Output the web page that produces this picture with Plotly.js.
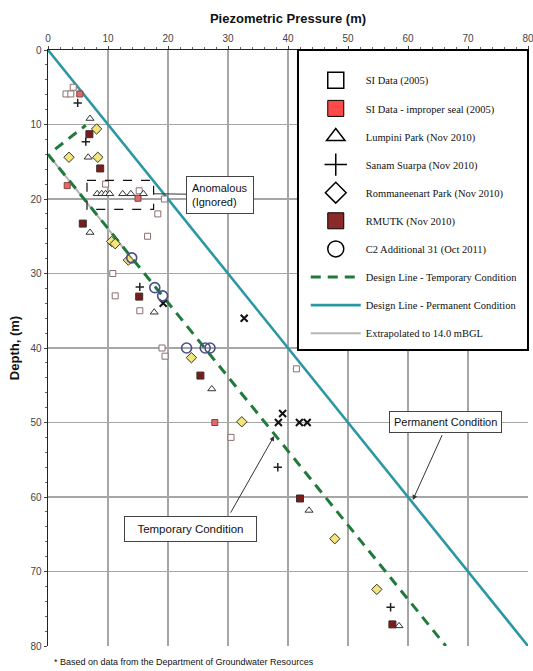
<!DOCTYPE html>
<html>
<head>
<meta charset="utf-8">
<script src="https://cdn.plot.ly/plotly-3.0.1.min.js"></script>
<style>html,body{margin:0;padding:0;background:#fff;}#chart{width:533px;height:671px;}</style>
</head>
<body>
<div id="chart"></div>
<script>
// ---- data (x = piezometric pressure m, y = depth m) ----
const siX = [4.2, 3.0, 3.8, 9.6, 15.2, 19.4, 18.3, 16.6, 10.8, 11.2, 15.3, 19.0, 19.5, 41.4, 30.5];
const siY = [5.0, 5.9, 5.9, 18.0, 18.9, 20.0, 22.0, 25.0, 30.0, 33.0, 35.0, 40.0, 41.1, 42.8, 52.0];
const sealX = [5.3, 3.2, 15.0, 27.8];
const sealY = [5.9, 18.2, 19.9, 50.0];
const lumpX = [7.0, 6.7, 8.2, 8.95, 9.6, 10.3, 12.45, 13.8, 15.9, 7.0, 17.7, 27.3, 43.5, 58.5];
const lumpY = [9.2, 14.4, 19.3, 19.3, 19.3, 19.3, 19.3, 19.3, 19.3, 24.5, 35.2, 45.5, 61.8, 77.3];
const sanamX = [4.95, 6.3, 15.3, 38.3, 57.1];
const sanamY = [7.1, 12.3, 31.8, 56.0, 74.8];
const crossX = [19.2, 32.7, 39.1, 38.4, 41.9, 43.2];
const crossY = [34.0, 36.0, 48.8, 50.0, 50.0, 50.0];
const rommX = [8.1, 3.5, 8.3, 10.6, 11.2, 13.4, 23.9, 32.3, 47.8, 54.8];
const rommY = [10.6, 14.4, 14.4, 25.7, 26.0, 28.2, 41.3, 49.9, 65.6, 72.4];
const rmutkX = [6.9, 8.7, 5.8, 15.2, 25.4, 42.0, 57.4];
const rmutkY = [11.3, 15.9, 23.3, 33.1, 43.7, 60.2, 77.1];
const c2X = [13.95, 17.8, 19.1, 23.1, 26.2, 27.0];
const c2Y = [27.9, 31.9, 33.0, 40.0, 40.0, 40.0];
const tempX = [1.2, 6.3, null, 0, 66.3];
const tempY = [13.3, 10.1, null, 14.0, 80];
const permX = [0, 80];
const permY = [0, 80];
const extraX = [0, 14.0];
const extraY = [14.0, 28.0];
const xTicks = [0, 10, 20, 30, 40, 50, 60, 70, 80];
const yTicks = [0, 10, 20, 30, 40, 50, 60, 70, 80];
const legendNames = ['SI Data (2005)', 'SI Data - improper seal (2005)', 'Lumpini Park (Nov 2010)',
  'Sanam Suarpa (Nov 2010)', 'Rommaneenart Park (Nov 2010)', 'RMUTK (Nov 2010)', 'C2 Additional 31 (Oct 2011)',
  'Design Line - Temporary Condition', 'Design Line - Permanent Condition', 'Extrapolated to 14.0 mBGL'];

const traces = [];
// lines first (drawn underneath)
traces.push({x: extraX, y: extraY, mode: 'lines', name: legendNames[9], legendrank: 10, legendgroup: 'g10',
  line: {color: '#b5b5b5', width: 2}});
traces.push({x: permX, y: permY, mode: 'lines', name: legendNames[8], legendrank: 9, legendgroup: 'g9',
  line: {color: '#2b97a3', width: 2.6}});
traces.push({x: tempX, y: tempY, mode: 'lines', name: legendNames[7], legendrank: 8, legendgroup: 'g8',
  line: {color: '#1f7a3c', width: 3, dash: '10px,7px'}});
// data markers
const mk = (x, y, marker) => ({x, y, mode: 'markers', showlegend: false, marker, hoverinfo: 'x+y'});
traces.push(mk(siX, siY, {symbol: 'square', size: 6, color: '#ffffff', line: {color: '#8a7070', width: 1}}));
traces.push(mk(sealX, sealY, {symbol: 'square', size: 6, color: '#e06a6a', line: {color: '#8a4040', width: 1}}));
traces.push(mk(lumpX, lumpY, {symbol: 'triangle-up', size: 7, color: '#ffffff', line: {color: '#333', width: 1}}));
traces.push(mk(sanamX, sanamY, {symbol: 'cross-thin', size: 6, line: {color: '#222', width: 1.5}}));
traces.push(mk(crossX, crossY, {symbol: 'x-thin', size: 7, line: {color: '#111', width: 2}}));
traces.push(mk(rommX, rommY, {symbol: 'diamond', size: 8, color: '#f3e57a', line: {color: '#333', width: 1}}));
traces.push(mk(rmutkX, rmutkY, {symbol: 'square', size: 7, color: '#7e1a1a', line: {color: '#333', width: 1}}));
traces.push(mk(c2X, c2Y, {symbol: 'circle', size: 10, color: 'rgba(255,255,255,0)', line: {color: '#4a4f86', width: 1.6}}));
// legend-only entries
const lg = (i, marker) => ({x: [null], y: [null], mode: 'markers', name: legendNames[i], legendrank: i + 1,
  legendgroup: 'g' + (i + 1), marker});
traces.push(lg(0, {symbol: 'square', size: 16, color: '#fff', line: {color: '#000', width: 1.5}}));
traces.push(lg(1, {symbol: 'square', size: 16, color: '#ff4a4a', line: {color: '#000', width: 1}}));
traces.push(lg(2, {symbol: 'triangle-up', size: 16, color: '#fff', line: {color: '#000', width: 1.5}}));
traces.push(lg(3, {symbol: 'cross-thin', size: 16, line: {color: '#000', width: 1.5}}));
traces.push(lg(4, {symbol: 'diamond', size: 16, color: '#fff', line: {color: '#000', width: 1.5}}));
traces.push(lg(5, {symbol: 'square', size: 16, color: '#8b2a2a', line: {color: '#000', width: 1}}));
traces.push(lg(6, {symbol: 'circle', size: 16, color: '#fff', line: {color: '#000', width: 1.5}}));

const axisCommon = {
  range: [0, 80], tickvals: xTicks, showgrid: true, gridcolor: '#a6a6a6', gridwidth: 1.2,
  zeroline: false, showline: true, linecolor: '#222', linewidth: 1.5, ticks: 'outside', ticklen: 3,
  tickcolor: '#444', tickfont: {family: 'Arial, Liberation Sans', size: 10, color: '#444'},
  ticklabeloverflow: 'allow',
  minor: {dtick: 2, ticks: 'outside', ticklen: 2, tickcolor: '#666', showgrid: false}
};

const layout = {
  width: 533, height: 671,
  margin: {l: 48, r: 5, t: 50, b: 25},
  paper_bgcolor: '#fff', plot_bgcolor: '#fff',
  showlegend: true,
  xaxis: Object.assign({}, axisCommon, {side: 'top',
    title: {text: '<b>Piezometric Pressure (m)</b>', standoff: 6, font: {family: 'Arial, Liberation Sans', size: 13, color: '#111'}}}),
  yaxis: Object.assign({}, axisCommon, {range: [80, 0], tickvals: yTicks,
    title: {text: '<b>Depth, (m)</b>', standoff: 8, font: {family: 'Arial, Liberation Sans', size: 13, color: '#111'}}}),
  legend: {x: 0.537, xanchor: 'left', y: 0.9735, yanchor: 'top', bgcolor: 'rgba(0,0,0,0)', borderwidth: 0,
    itemwidth: 50, itemsizing: 'trace', tracegroupgap: 9.1,
    font: {family: 'Liberation Serif, Times New Roman, serif', size: 10.5, color: '#111'}},
  shapes: [
    {type: 'rect', xref: 'paper', yref: 'paper', x0: 0.5208, x1: 1, y0: 0.4966, y1: 1,
      fillcolor: '#fff', line: {color: '#000', width: 2}, layer: 'above'},
    {type: 'rect', xref: 'x', yref: 'y', x0: 6.5, x1: 17.6, y0: 17.5, y1: 21.4,
      line: {color: '#111', width: 1.2, dash: 'dash'}, layer: 'above'}
  ],
  annotations: [
    {xref: 'x', yref: 'y', x: 17.6, y: 19.3, axref: 'x', ayref: 'y', ax: 28.6, ay: 19.4,
      text: 'Anomalous<br>(Ignored)', showarrow: true, arrowhead: 0, arrowwidth: 1, arrowcolor: '#333',
      font: {family: 'Arial, Liberation Sans', size: 11, color: '#111'}, align: 'left',
      bgcolor: '#fff', bordercolor: '#444', borderwidth: 1, borderpad: 5},
    {xref: 'x', yref: 'y', x: 66.3, y: 49.9, text: 'Permanent Condition', showarrow: false,
      font: {family: 'Arial, Liberation Sans', size: 11, color: '#111'},
      bgcolor: '#fff', bordercolor: '#444', borderwidth: 1, borderpad: 4},
    {xref: 'x', yref: 'y', x: 60.8, y: 60.4, axref: 'x', ayref: 'y', ax: 65.8, ay: 51.5, text: '',
      showarrow: true, arrowhead: 2, arrowsize: 1, arrowwidth: 1, arrowcolor: '#333'},
    {xref: 'x', yref: 'y', x: 23.7, y: 64.3, text: '&nbsp;&nbsp;Temporary Condition&nbsp;&nbsp;', showarrow: false,
      font: {family: 'Arial, Liberation Sans', size: 11.5, color: '#111'},
      bgcolor: '#fff', bordercolor: '#444', borderwidth: 1, borderpad: 6},
    {xref: 'x', yref: 'y', x: 37.7, y: 51.8, axref: 'x', ayref: 'y', ax: 30.3, ay: 62.3, text: '',
      showarrow: true, arrowhead: 2, arrowsize: 1, arrowwidth: 1, arrowcolor: '#333'},
    {xref: 'paper', yref: 'paper', x: 0.008, y: -0.027, xanchor: 'left', yanchor: 'middle', showarrow: false,
      text: '* Based on data from the Department of Groundwater Resources',
      font: {family: 'Arial, Liberation Sans', size: 9, color: '#111'}}
  ]
};

Plotly.newPlot('chart', traces, layout, {displayModeBar: false, staticPlot: true});
</script>
</body>
</html>
